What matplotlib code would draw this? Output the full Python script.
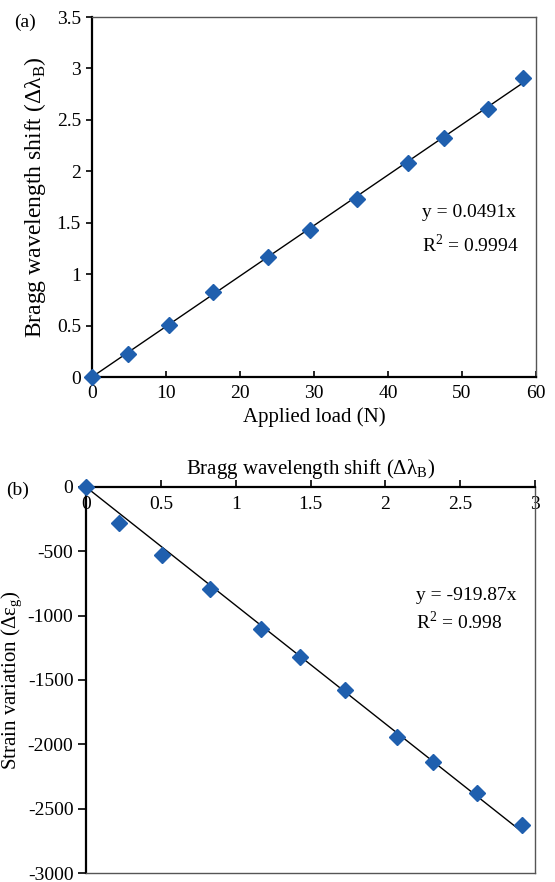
import matplotlib
matplotlib.use('Agg')
import matplotlib.pyplot as plt
import numpy as np
from matplotlib.ticker import FormatStrFormatter, FuncFormatter

plt.rcParams['font.family'] = ['Liberation Serif', 'DejaVu Serif']
plt.rcParams['mathtext.fontset'] = 'custom'
plt.rcParams['mathtext.rm'] = 'Liberation Serif'
plt.rcParams['axes.unicode_minus'] = False

# data (a): applied load vs Bragg wavelength shift
load = [0, 4.9, 10.4, 16.3, 23.8, 29.4, 35.8, 42.7, 47.5, 53.5, 58.2]
shift = [0, 0.22, 0.51, 0.83, 1.17, 1.43, 1.73, 2.08, 2.32, 2.61, 2.91]
slope_a = 0.0491

# data (b): Bragg wavelength shift vs strain variation
shift_b = [0, 0.22, 0.51, 0.83, 1.17, 1.43, 1.73, 2.08, 2.32, 2.61, 2.91]
strain = [0, -280, -530, -790, -1100, -1320, -1580, -1940, -2140, -2380, -2630]
slope_b = -919.87

blue = '#1f5fae'
fs = 14

fig = plt.figure(figsize=(5.55, 8.82), dpi=100)

def style_spines(ax, thick, thin):
    for s in thick:
        ax.spines[s].set_color('black')
        ax.spines[s].set_linewidth(1.6)
    for s in thin:
        ax.spines[s].set_color('#555555')
        ax.spines[s].set_linewidth(1.0)

fmt = FuncFormatter(lambda v, p: '%g' % v)

# ---- panel (a)
ax1 = fig.add_axes([92/555, 1 - 377/882, 444/555, 360/882])
ax1.plot(load, shift, 'D', color=blue, markersize=8, zorder=3, clip_on=False)
xf = np.array([0, max(load)])
ax1.plot(xf, slope_a * xf, color='black', lw=1.0, zorder=2)
ax1.set_xlim(0, 60)
ax1.set_ylim(0, 3.5)
ax1.set_xticks(np.arange(0, 61, 10))
ax1.set_yticks(np.arange(0, 3.51, 0.5))
ax1.xaxis.set_major_formatter(fmt)
ax1.yaxis.set_major_formatter(fmt)
ax1.tick_params(axis='x', direction='in', length=4, width=1.2, labelsize=fs, pad=6)
ax1.tick_params(axis='y', direction='out', length=4, width=1.2, labelsize=fs, pad=4)
style_spines(ax1, ['left', 'bottom'], ['top', 'right'])
ax1.set_xlabel('Applied load (N)', fontsize=15)
ax1.xaxis.set_label_coords(0.5, -0.085)
ax1.set_ylabel('Bragg wavelength shift (Δλ$_\\mathrm{B}$)', fontsize=17)
ax1.yaxis.set_label_coords(-0.1, 0.5)
ax1.text(0.743, 0.456, 'y = 0.0491x', transform=ax1.transAxes, fontsize=fs, va='center')
ax1.text(0.743, 0.367, 'R$^2$ = 0.9994', transform=ax1.transAxes, fontsize=fs, va='center')
fig.text(14/555, 1 - 22/882, '(a)', fontsize=fs, va='center')

# ---- panel (b)
ax2 = fig.add_axes([86/555, 1 - 873/882, 449/555, 386/882])
ax2.plot(shift_b, strain, 'D', color=blue, markersize=8, zorder=3, clip_on=False)
xf = np.array([0, max(shift_b)])
ax2.plot(xf, slope_b * xf, color='black', lw=1.0, zorder=2)
ax2.set_xlim(0, 3)
ax2.set_ylim(-3000, 0)
ax2.set_xticks(np.arange(0, 3.01, 0.5))
ax2.set_yticks(np.arange(-3000, 1, 500))
ax2.xaxis.set_major_formatter(fmt)
ax2.yaxis.set_major_formatter(FormatStrFormatter('%d'))
ax2.xaxis.set_label_position('top')
ax2.tick_params(axis='x', top=True, bottom=False, labeltop=True, labelbottom=False,
                direction='out', length=5, width=1.2, labelsize=fs, pad=-24)
ax2.tick_params(axis='y', direction='out', length=6, width=1.2, labelsize=fs, pad=3)
style_spines(ax2, ['left', 'top'], ['bottom', 'right'])
ax2.set_xlabel('Bragg wavelength shift (Δλ$_\\mathrm{B}$)', fontsize=15)
ax2.xaxis.set_label_coords(0.5, 1.034)
ax2.set_ylabel('Strain variation (Δε$_\\mathrm{g}$)', fontsize=15)
ax2.yaxis.set_label_coords(-0.135, 0.5)
ax2.text(0.735, 0.719, 'y = -919.87x', transform=ax2.transAxes, fontsize=fs, va='center')
ax2.text(0.735, 0.652, 'R$^2$ = 0.998', transform=ax2.transAxes, fontsize=fs, va='center')
fig.text(6/555, 1 - 490/882, '(b)', fontsize=fs, va='center')

plt.savefig('out.png', dpi=100)
plt.close()
